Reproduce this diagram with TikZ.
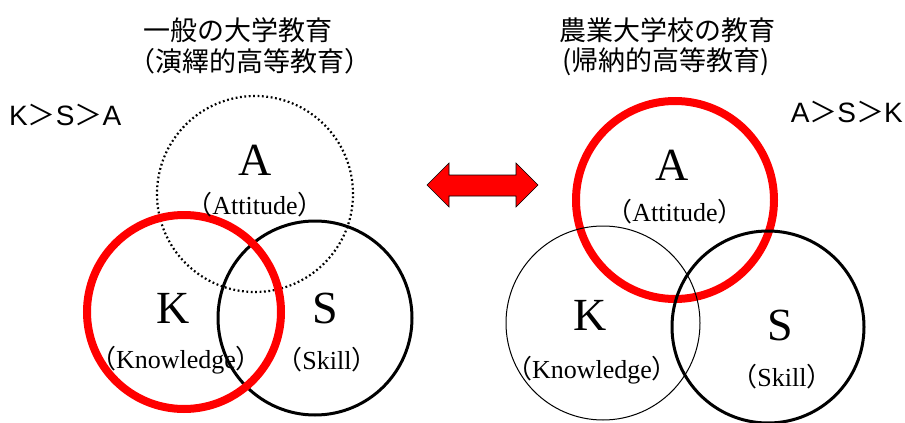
\documentclass[tikz,border=0pt]{standalone}
\usepackage{fontspec}
\setmainfont{Liberation Serif}
\newfontfamily\cjk{Noto Sans CJK JP}
\newfontfamily\arialf{Liberation Sans}
\begin{document}
\begin{tikzpicture}[x=1pt,y=-1pt,
  ring/.style={circle,draw,inner sep=0pt,minimum size=#1},
  redring/.style={ring=#1,draw=red,line width=8pt},
  boldring/.style={ring=#1,draw=black,line width=3pt},
  thinring/.style={ring=#1,draw=black,line width=1pt},
  dotring/.style={ring=#1,draw=black,line width=2.2pt,dash pattern=on 1.8pt off 2.6pt},
  bigletter/.style={font=\fontsize{46}{50}\selectfont,inner sep=0pt},
  sublabel/.style={font=\fontsize{26}{30}\selectfont,inner sep=0pt},
  title/.style={font=\cjk\fontsize{27}{32}\selectfont,inner sep=0pt},
  order/.style={font=\arialf\fontsize{28}{32}\selectfont,inner sep=0pt}
]
\useasboundingbox (0,0) rectangle (905,423);
% titles
\node[title] (t1a) at (238,30) {一般の大学教育};
\node[title] (t1b) at (250,61) {（演繹的高等教育）};
\node[title] (t2a) at (667,30) {農業大学校の教育};
\node[title] (t2b) at (666,62) {(帰納的高等教育)};
\node[order,anchor=west] (o1) at (9,115) {K{\cjk ＞}S{\cjk ＞}A};
\node[order,anchor=east] (o2) at (903,112) {A{\cjk ＞}S{\cjk ＞}K};
% left diagram
\node[dotring=196pt] (lA) at (255,194) {};
\node[boldring=194pt] (lS) at (315,318) {};
\node[redring=194pt] (lK) at (184,312) {};
\node[bigletter] (lAt) at (255,160) {A};
\node[sublabel] (lAs) at (255,205) {{\cjk （}Attitude{\cjk ）}};
\node[bigletter] (lKt) at (173,308) {K};
\node[sublabel] (lKs) at (176,360) {{\cjk （}Knowledge{\cjk ）}};
\node[bigletter] (lSt) at (325,308) {S};
\node[sublabel] (lSs) at (327,360) {{\cjk （}Skill{\cjk ）}};
% right diagram
\node[redring=198pt] (rA) at (675,200) {};
\node[thinring=194pt] (rK) at (603,323) {};
\node[boldring=192pt] (rS) at (768,327) {};
\node[bigletter] (rAt) at (672,165) {A};
\node[sublabel] (rAs) at (675,212) {{\cjk （}Attitude{\cjk ）}};
\node[bigletter] (rKt) at (590,315) {K};
\node[sublabel] (rKs) at (592,370) {{\cjk （}Knowledge{\cjk ）}};
\node[bigletter] (rSt) at (780,325) {S};
\node[sublabel] (rSs) at (782,377) {{\cjk （}Skill{\cjk ）}};
% double arrow
\coordinate (arrL) at (427,185);
\coordinate (arrR) at (538,185);
\filldraw[fill=red,draw=black,line width=0.6pt]
  (arrL) -- (449,163) -- (449,175) -- (516,175) -- (516,163) -- (arrR)
  -- (516,207) -- (516,196) -- (449,196) -- (449,207) -- cycle;
\end{tikzpicture}
\end{document}
